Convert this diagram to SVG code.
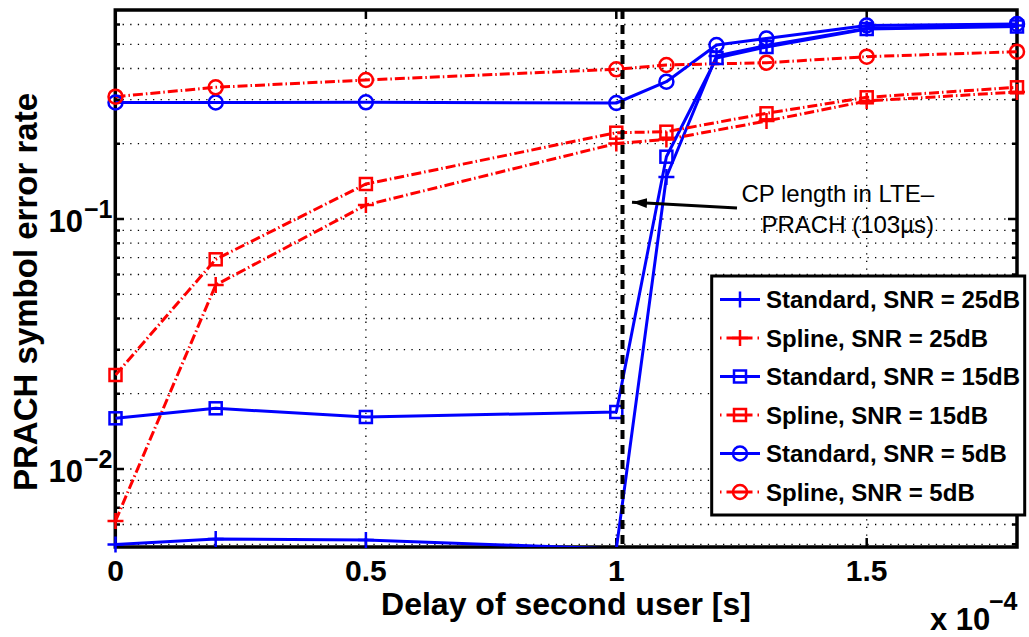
<svg xmlns="http://www.w3.org/2000/svg" xmlns:xlink="http://www.w3.org/1999/xlink" width="1029" height="637" viewBox="0 0 1029 637">
<style>
.grid{stroke:#000;stroke-width:1.3;stroke-dasharray:1.3 6.3;fill:none}
.ax{stroke:#000;stroke-width:3.5;fill:none}
.tk{stroke:#000;stroke-width:2.5;fill:none}
.lb{stroke:#0000ff;stroke-width:3;fill:none;stroke-linejoin:round}
.lr{stroke:#ff0000;stroke-width:3;fill:none;stroke-dasharray:10 3 1.5 3}
.mb{stroke:#0000ff;stroke-width:2.5;fill:none}
.mr{stroke:#ff0000;stroke-width:2.5;fill:none}
.tl{font-family:"Liberation Sans",Arial,sans-serif;font-weight:bold;font-size:30px;fill:#000}
.ty{font-family:"Liberation Sans",Arial,sans-serif;font-weight:bold;font-size:31px;fill:#000}
.ex{font-family:"Liberation Sans",Arial,sans-serif;font-weight:bold;font-size:25px;fill:#000}
.al{font-family:"Liberation Sans",Arial,sans-serif;font-weight:bold;font-size:32px;fill:#000}
.yl{font-family:"Liberation Sans",Arial,sans-serif;font-weight:bold;font-size:33px;fill:#000}
.lg{font-family:"Liberation Sans",Arial,sans-serif;font-weight:bold;font-size:24px;fill:#000}
.an{font-family:"Liberation Sans",Arial,sans-serif;font-size:24px;fill:#000}
</style>
<defs>
<clipPath id="plotclip"><rect x="115" y="10" width="902" height="537"/></clipPath>
<g id="mp"><path d="M-8,0H8M0,-8V8"/></g>
<g id="ms"><rect x="-6" y="-6" width="12" height="12"/></g>
<g id="mc"><circle r="7"/></g>
<marker id="ah" markerWidth="16" markerHeight="12" refX="15" refY="6" orient="auto" markerUnits="userSpaceOnUse"><path d="M0,1 L15,6 L0,11 Z" fill="#000"/></marker>
</defs>
<rect width="1029" height="637" fill="#fff"/>

<g id="grid">
<path class="grid" d="M115,24.5H1017M115,44.3H1017M115,68.5H1017M115,99.7H1017M115,143.7H1017M115,219H1017M115,230.4H1017M115,243.2H1017M115,257.7H1017M115,274.5H1017M115,294.3H1017M115,318.5H1017M115,349.7H1017M115,393.7H1017M115,469H1017M115,480.4H1017M115,493.2H1017M115,507.7H1017M115,524.5H1017M115,544.3H1017"/>
<path class="grid" d="M365.9,10V547M616.3,10V547M866.7,10V547"/>
</g>

<g id="axes">
<rect class="ax" x="115.3" y="10" width="901.7" height="537"/>
<path class="tk" d="M115,219h9M115,469h9M1017,219h-9M1017,469h-9"/>
<path class="tk" d="M115,24.5h5M115,44.3h5M115,68.5h5M115,99.7h5M115,143.7h5M115,230.4h5M115,243.2h5M115,257.7h5M115,274.5h5M115,294.3h5M115,318.5h5M115,349.7h5M115,393.7h5M115,480.4h5M115,493.2h5M115,507.7h5M115,524.5h5M115,544.3h5"/>
<path class="tk" d="M1017,24.5h-5M1017,44.3h-5M1017,68.5h-5M1017,99.7h-5M1017,143.7h-5M1017,230.4h-5M1017,243.2h-5M1017,257.7h-5M1017,274.5h-5M1017,294.3h-5M1017,318.5h-5M1017,349.7h-5M1017,393.7h-5M1017,480.4h-5M1017,493.2h-5M1017,507.7h-5M1017,524.5h-5M1017,544.3h-5"/>
<path class="tk" d="M365.9,10v9M616.3,10v9M866.7,10v9M365.9,547v-9M616.3,547v-9M866.7,547v-9"/>
<text class="tl" x="115.5" y="581" text-anchor="middle">0</text>
<text class="tl" x="365.9" y="581" text-anchor="middle">0.5</text>
<text class="tl" x="616.3" y="581" text-anchor="middle">1</text>
<text class="tl" x="866.7" y="581" text-anchor="middle">1.5</text>
<text class="ty" x="83" y="231.5" text-anchor="end">10</text>
<text class="ex" x="84" y="218">−1</text>
<text class="ty" x="83" y="481.5" text-anchor="end">10</text>
<text class="ex" x="84" y="468">−2</text>
<text class="ty" x="930" y="630">x 10</text>
<text class="ex" x="989" y="610">−4</text>
<text class="al" x="566" y="615" text-anchor="middle">Delay of second user [s]</text>
<text class="yl" transform="translate(37,292) rotate(-90)" text-anchor="middle">PRACH symbol error rate</text>
</g>

<g id="connectors">
<g clip-path="url(#plotclip)">
<polyline id="std25" class="lb" points="115.5,544.5 215.7,539 365.9,540 616.3,549 666.4,177 716.5,56 766.5,45.5 866.7,28.5 1017,25.5"/>
<polyline id="spl25" class="lr" points="115.5,521 215.7,285 365.9,205 616.3,143.5 666.4,139.5 766.5,121 866.7,101 1017,92"/>
<polyline id="std15" class="lb" points="115.5,418.3 215.7,408.3 365.9,417 616.3,412 666.4,156.7 716.5,58 766.5,47 866.7,29 1017,26.5"/>
<polyline id="spl15" class="lr" points="115.5,375 215.7,259.3 365.9,184 616.3,132.7 666.4,131.7 766.5,113.3 866.7,97.3 1017,87.3"/>
<polyline id="std5" class="lb" points="115.5,102.5 215.7,102.5 365.9,102.3 616.3,103 666.4,81.7 716.5,45 766.5,38.5 866.7,25.5 1017,24"/>
<polyline id="spl5" class="lr" points="115.5,96.7 215.7,87.3 365.9,80 616.3,69.3 666.4,65 766.5,62.7 866.7,56.7 1017,51.7"/>
</g>
</g>

<g id="markers-std25" class="mb">
<use xlink:href="#mp" x="115.5" y="544.5"/><use xlink:href="#mp" x="215.7" y="539"/><use xlink:href="#mp" x="365.9" y="540"/><use xlink:href="#mp" x="666.4" y="177"/><use xlink:href="#mp" x="716.5" y="56"/><use xlink:href="#mp" x="766.5" y="45.5"/><use xlink:href="#mp" x="866.7" y="28.5"/><use xlink:href="#mp" x="1017" y="25.5"/>
</g>
<g id="markers-spl25" class="mr">
<use xlink:href="#mp" x="115.5" y="521"/><use xlink:href="#mp" x="215.7" y="285"/><use xlink:href="#mp" x="365.9" y="205"/><use xlink:href="#mp" x="616.3" y="143.5"/><use xlink:href="#mp" x="666.4" y="139.5"/><use xlink:href="#mp" x="766.5" y="121"/><use xlink:href="#mp" x="866.7" y="101"/><use xlink:href="#mp" x="1017" y="92"/>
</g>
<g id="markers-std15" class="mb">
<use xlink:href="#ms" x="115.5" y="418.3"/><use xlink:href="#ms" x="215.7" y="408.3"/><use xlink:href="#ms" x="365.9" y="417"/><use xlink:href="#ms" x="616.3" y="412"/><use xlink:href="#ms" x="666.4" y="156.7"/><use xlink:href="#ms" x="716.5" y="58"/><use xlink:href="#ms" x="766.5" y="47"/><use xlink:href="#ms" x="866.7" y="29"/><use xlink:href="#ms" x="1017" y="26.5"/>
</g>
<g id="markers-spl15" class="mr">
<use xlink:href="#ms" x="115.5" y="375"/><use xlink:href="#ms" x="215.7" y="259.3"/><use xlink:href="#ms" x="365.9" y="184"/><use xlink:href="#ms" x="616.3" y="132.7"/><use xlink:href="#ms" x="666.4" y="131.7"/><use xlink:href="#ms" x="766.5" y="113.3"/><use xlink:href="#ms" x="866.7" y="97.3"/><use xlink:href="#ms" x="1017" y="87.3"/>
</g>
<g id="markers-std5" class="mb">
<use xlink:href="#mc" x="115.5" y="102.5"/><use xlink:href="#mc" x="215.7" y="102.5"/><use xlink:href="#mc" x="365.9" y="102.3"/><use xlink:href="#mc" x="616.3" y="103"/><use xlink:href="#mc" x="666.4" y="81.7"/><use xlink:href="#mc" x="716.5" y="45"/><use xlink:href="#mc" x="766.5" y="38.5"/><use xlink:href="#mc" x="866.7" y="25.5"/><use xlink:href="#mc" x="1017" y="24"/>
</g>
<g id="markers-spl5" class="mr">
<use xlink:href="#mc" x="115.5" y="96.7"/><use xlink:href="#mc" x="215.7" y="87.3"/><use xlink:href="#mc" x="365.9" y="80"/><use xlink:href="#mc" x="616.3" y="69.3"/><use xlink:href="#mc" x="666.4" y="65"/><use xlink:href="#mc" x="766.5" y="62.7"/><use xlink:href="#mc" x="866.7" y="56.7"/><use xlink:href="#mc" x="1017" y="51.7"/>
</g>

<g id="cp-annotation">
<path d="M622.5,10V547" stroke="#000" stroke-width="4" stroke-dasharray="9 6" fill="none"/>
<path d="M737,208 L632,202.3" stroke="#000" stroke-width="3" fill="none" marker-end="url(#ah)"/>
<text class="an" x="934" y="201.5" text-anchor="end">CP length in LTE–</text>
<text class="an" x="934" y="233" text-anchor="end">PRACH (103µs)</text>
</g>

<g id="legend">
<rect x="711.7" y="276" width="313" height="239" fill="#fff" stroke="#000" stroke-width="3"/>
<path class="lb" d="M720,299.5H760"/><use class="mb" xlink:href="#mp" x="740" y="299.5"/>
<text class="lg" x="766" y="308">Standard, SNR = 25dB</text>
<path class="lr" d="M720,338H760" style="stroke-dasharray:1.5 5 26 5 1.5"/><use class="mr" xlink:href="#mp" x="740" y="338"/>
<text class="lg" x="766" y="346.5">Spline, SNR = 25dB</text>
<path class="lb" d="M720,376.5H760"/><use class="mb" xlink:href="#ms" x="740" y="376.5"/>
<text class="lg" x="766" y="385">Standard, SNR = 15dB</text>
<path class="lr" d="M720,415H760" style="stroke-dasharray:1.5 5 26 5 1.5"/><use class="mr" xlink:href="#ms" x="740" y="415"/>
<text class="lg" x="766" y="423.5">Spline, SNR = 15dB</text>
<path class="lb" d="M720,453.5H760"/><use class="mb" xlink:href="#mc" x="740" y="453.5"/>
<text class="lg" x="766" y="462">Standard, SNR = 5dB</text>
<path class="lr" d="M720,492H760" style="stroke-dasharray:1.5 5 26 5 1.5"/><use class="mr" xlink:href="#mc" x="740" y="492"/>
<text class="lg" x="766" y="500.5">Spline, SNR = 5dB</text>
</g>
</svg>
